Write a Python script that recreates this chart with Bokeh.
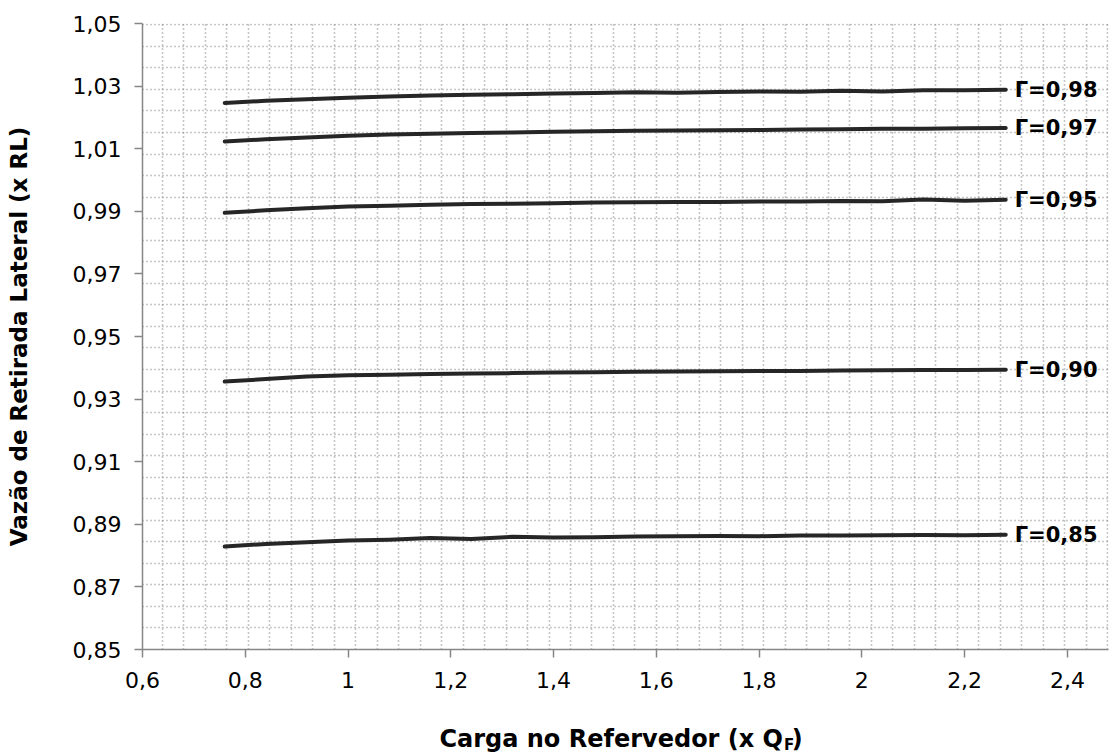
from bokeh.plotting import figure
from bokeh.layouts import column
from bokeh.models import FixedTicker, Range1d, ColumnDataSource, CustomJSTickFormatter
from bokeh.core.properties import value
from bokeh.embed import file_html
from bokeh.resources import INLINE

# ---------------- data ----------------
carga = [0.76, 0.84, 0.92, 1.00, 1.08, 1.16, 1.24, 1.32, 1.40, 1.48,
         1.56, 1.64, 1.72, 1.80, 1.88, 1.96, 2.04, 2.12, 2.20, 2.28]

g098 = [1.0246, 1.0253, 1.0258, 1.0263, 1.0267, 1.0270, 1.0272, 1.0274, 1.0276, 1.0278,
        1.0280, 1.0279, 1.0281, 1.0283, 1.0282, 1.0285, 1.0283, 1.0287, 1.0287, 1.0288]
g097 = [1.0123, 1.0130, 1.0136, 1.0141, 1.0145, 1.0148, 1.0150, 1.0152, 1.0154, 1.0156,
        1.0157, 1.0158, 1.0159, 1.0160, 1.0161, 1.0162, 1.0164, 1.0164, 1.0165, 1.0166]
g095 = [0.9895, 0.9903, 0.9910, 0.9915, 0.9918, 0.9921, 0.9923, 0.9924, 0.9926, 0.9928,
        0.9929, 0.9930, 0.9930, 0.9931, 0.9931, 0.9933, 0.9932, 0.9938, 0.9934, 0.9937]
g090 = [0.9356, 0.9364, 0.9372, 0.9376, 0.9378, 0.9380, 0.9382, 0.9383, 0.9385, 0.9386,
        0.9387, 0.9388, 0.9389, 0.9390, 0.9390, 0.9391, 0.9392, 0.9393, 0.9393, 0.9394]
g085 = [0.8829, 0.8837, 0.8843, 0.8848, 0.8851, 0.8856, 0.8853, 0.8860, 0.8858, 0.8859,
        0.8861, 0.8862, 0.8863, 0.8862, 0.8864, 0.8864, 0.8865, 0.8866, 0.8865, 0.8867]

series = [g098, g097, g095, g090, g085]
series_labels = ["Γ=0,98", "Γ=0,97", "Γ=0,95", "Γ=0,90", "Γ=0,85"]

x_ticks = [0.6, 0.8, 1.0, 1.2, 1.4, 1.6, 1.8, 2.0, 2.2, 2.4]
x_tick_labels = ["0,6", "0,8", "1", "1,2", "1,4", "1,6", "1,8", "2", "2,2", "2,4"]
y_ticks = [0.85, 0.87, 0.89, 0.91, 0.93, 0.95, 0.97, 0.99, 1.01, 1.03, 1.05]
y_tick_labels = ["0,85", "0,87", "0,89", "0,91", "0,93", "0,95", "0,97", "0,99", "1,01", "1,03", "1,05"]

x_title = "Carga no Refervedor (x Q"
x_title_sub = "F"
x_title_end = ")"
y_title = "Vazão de Retirada Lateral (x RL)"

# ---------------- style ----------------
FONT = "DejaVu Sans"
AXIS_COL = "#868686"
LINE_COL = "#262626"
GRID_COL = "#8c8c8c"

X0, X1 = 0.6, 2.48
Y0, Y1 = 0.85, 1.05

p = figure(width=1110, height=714, output_backend="svg", toolbar_location=None,
           x_range=Range1d(X0, X1), y_range=Range1d(Y0, Y1),
           min_border_left=142, min_border_right=2, min_border_top=23, min_border_bottom=65,
           background_fill_color="white", border_fill_color="white")
p.outline_line_color = None

# dotted pattern grid (plot-area fill pattern, not aligned with ticks)
gx = [0.638 + k * 0.04184 for k in range(45)]
gy = [Y0 + k * 0.006882 for k in range(30)] + [Y1]
p.xgrid.ticker = FixedTicker(ticks=gx)
p.ygrid.ticker = FixedTicker(ticks=gy)
for g in (p.xgrid, p.ygrid):
    g.grid_line_color = GRID_COL
    g.grid_line_dash = "1 3"
    g.grid_line_width = 1.6

fmt_code = ("let i=0,b=1e9;for(let k=0;k<t.length;k++){const d=Math.abs(t[k]-tick);"
            "if(d<b){b=d;i=k}}return l[i];")
p.xaxis.ticker = FixedTicker(ticks=x_ticks)
p.xaxis.formatter = CustomJSTickFormatter(args=dict(t=x_ticks, l=x_tick_labels), code=fmt_code)
p.yaxis.ticker = FixedTicker(ticks=y_ticks)
p.yaxis.formatter = CustomJSTickFormatter(args=dict(t=y_ticks, l=y_tick_labels), code=fmt_code)

for ax in (p.xaxis, p.yaxis):
    ax.axis_line_color = AXIS_COL
    ax.axis_line_width = 1.5
    ax.major_tick_line_color = AXIS_COL
    ax.major_tick_line_width = 1.5
    ax.major_tick_out = 8
    ax.major_tick_in = 0
    ax.minor_tick_line_color = None
    ax.major_label_text_font = FONT
    ax.major_label_text_font_size = "22px"
    ax.major_label_text_color = "black"

p.xaxis.major_label_standoff = 14
p.yaxis.major_label_standoff = 13
p.yaxis.axis_label = y_title
p.yaxis.axis_label_text_font = FONT
p.yaxis.axis_label_text_font_style = "bold"
p.yaxis.axis_label_text_font_size = "23px"
p.yaxis.axis_label_text_color = "black"
p.yaxis.axis_label_standoff = 38

# series lines
for ys in series:
    p.line(carga, ys, line_color=LINE_COL, line_width=4, line_cap="round", line_join="round")

# end labels
end_src = ColumnDataSource(data=dict(x=[carga[-1]] * len(series),
                                     y=[s[-1] for s in series],
                                     t=series_labels))
p.text(x="x", y="y", text="t", source=end_src, x_offset=9, text_baseline="middle",
       text_align="left", text_font=value(FONT), text_font_style="bold",
       text_font_size="21px", text_color="black")

# x-axis title strip (with subscript F)
t = figure(width=1110, height=40, output_backend="svg", toolbar_location=None, title=None,
           x_range=Range1d(0, 1110), y_range=Range1d(0, 40),
           min_border=0, background_fill_color="white", border_fill_color="white")
t.outline_line_color = None
t.axis.visible = False
t.grid.visible = False
t.text(x=[736], y=[16], text=[x_title], text_align="right", text_baseline="alphabetic",
       text_font=value(FONT), text_font_style="bold", text_font_size="24px", text_color="black")
t.text(x=[737], y=[10], text=[x_title_sub], text_align="left", text_baseline="alphabetic",
       text_font=value(FONT), text_font_style="bold", text_font_size="15px", text_color="black")
t.text(x=[746], y=[16], text=[x_title_end], text_align="left", text_baseline="alphabetic",
       text_font=value(FONT), text_font_style="bold", text_font_size="24px", text_color="black")

layout = column(p, t, spacing=0)
open("out.html", "w").write(file_html(layout, INLINE))
